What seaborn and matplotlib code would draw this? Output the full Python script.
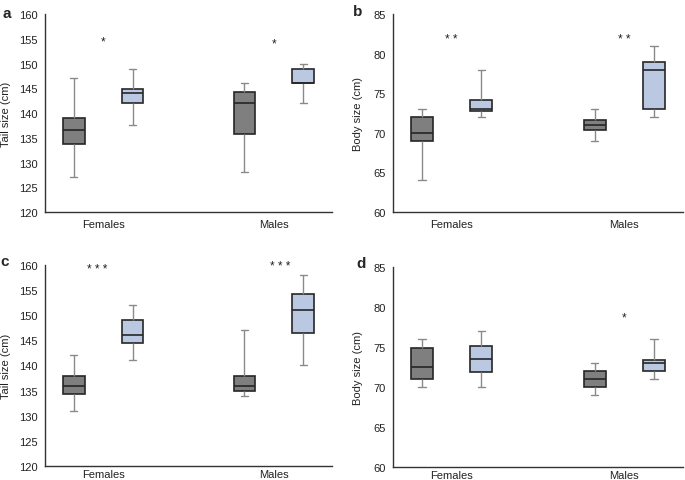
import numpy as np
import pandas as pd
import matplotlib
matplotlib.use("Agg")
import matplotlib.pyplot as plt
import seaborn as sns

# five-number summaries: [min, q1, median, q3, max]
sexes = ["Females", "Males"]
groups = ["g1", "g2"]
colors = ["#7f7f7f", "#b4c7e7"]

tail_a = {
    ("Females", "g1"): [127, 133.8, 136.5, 139.1, 147],
    ("Females", "g2"): [137.5, 142, 144, 144.8, 149],
    ("Males", "g1"): [128, 135.8, 142, 144.2, 146],
    ("Males", "g2"): [142, 146, 146, 149, 150],
}
body_b = {
    ("Females", "g1"): [64, 69, 70, 72, 73],
    ("Females", "g2"): [72, 72.8, 73, 74.2, 78],
    ("Males", "g1"): [69, 70.4, 71, 71.6, 73],
    ("Males", "g2"): [72, 73, 78, 79, 81],
}
tail_c = {
    ("Females", "g1"): [131, 134.3, 136, 138, 142],
    ("Females", "g2"): [141, 144.4, 146, 149, 152],
    ("Males", "g1"): [134, 135, 136, 138, 147],
    ("Males", "g2"): [140, 146.4, 151, 154.2, 158],
}
body_d = {
    ("Females", "g1"): [70, 71, 72.5, 74.8, 76],
    ("Females", "g2"): [70, 71.8, 73.5, 75.1, 77],
    ("Males", "g1"): [69, 70, 71, 72, 73],
    ("Males", "g2"): [71, 72, 73, 73.3, 76],
}

# significance marks: (sex, x shift, y, text)
stars_a = [("Females", 0.0, 154.4, "*"), ("Males", 0.0, 154.0, "*")]
stars_b = [("Females", 0.0, 81.8, "* *"), ("Males", 0.0, 81.8, "* *")]
stars_c = [("Females", -0.035, 159.2, "* * *"), ("Males", 0.035, 159.7, "* * *")]
stars_d = [("Males", 0.0, 78.6, "*")]

panels = [
    ("a", tail_a, stars_a, "Tail size (cm)", (120, 160), np.arange(120, 161, 5)),
    ("b", body_b, stars_b, "Body size (cm)", (60, 85), np.arange(60, 86, 5)),
    ("c", tail_c, stars_c, "Tail size (cm)", (120, 160), np.arange(120, 161, 5)),
    ("d", body_d, stars_d, "Body size (cm)", (60, 85), np.arange(60, 86, 5)),
]

sns.set_style("white")
plt.rcParams["font.family"] = ["Liberation Sans", "DejaVu Sans"]

fig = plt.figure(figsize=(6.85, 4.81), dpi=100)
rects = [
    [0.0657, 0.557, 0.419, 0.4116],
    [0.5737, 0.557, 0.4234, 0.4116],
    [0.0657, 0.0291, 0.419, 0.418],
    [0.5737, 0.028, 0.4234, 0.4158],
]
letter_pos = [(0.004, 0.985), (0.515, 0.99), (0.001, 0.47), (0.52, 0.465)]
label_x = [-0.118, -0.105, -0.118, -0.105]
xpad = [5, 5, 2.5, 2.5]

for (letter, summ, stars, ylabel, ylim, yticks), rect, lp, lx, xp in zip(panels, rects, letter_pos, label_x, xpad):
    ax = fig.add_axes(rect)
    rows = []
    for (sex, grp), vals in summ.items():
        for v in vals:
            rows.append({"sex": sex, "group": grp, "value": v})
    df = pd.DataFrame(rows)
    sns.boxplot(
        data=df, x="sex", y="value", hue="group", order=sexes, hue_order=groups,
        palette=colors, whis=np.inf, width=0.69, gap=0.63, linewidth=1.2,
        boxprops=dict(edgecolor="#262626"),
        medianprops=dict(color="#262626", linewidth=1.2),
        whiskerprops=dict(color="#8a8a8a", linewidth=1.0),
        capprops=dict(color="#8a8a8a", linewidth=1.0),
        capwidths=0.045, legend=False, ax=ax,
    )
    for sex, dx, y, txt in stars:
        ax.text(sexes.index(sex) + dx, y, txt, ha="center", va="center", fontsize=8.5, color="#222222")
    ax.set_xlim(-0.34, 1.34)
    ax.set_ylim(*ylim)
    ax.set_yticks(yticks)
    ax.set_xlabel("")
    ax.set_ylabel(ylabel, fontsize=8, color="#222222")
    ax.yaxis.set_label_coords(lx, 0.5)
    ax.tick_params(axis="both", length=0, labelsize=8, colors="#222222")
    ax.tick_params(axis="y", pad=5)
    ax.tick_params(axis="x", pad=xp)
    for s in ["top", "right"]:
        ax.spines[s].set_visible(False)
    for s in ["left", "bottom"]:
        ax.spines[s].set_color("#333333")
        ax.spines[s].set_linewidth(1.0)
    fig.text(lp[0], lp[1], letter, fontsize=11, fontweight="bold", va="top", ha="left")

fig.savefig("out.png", dpi=100)
